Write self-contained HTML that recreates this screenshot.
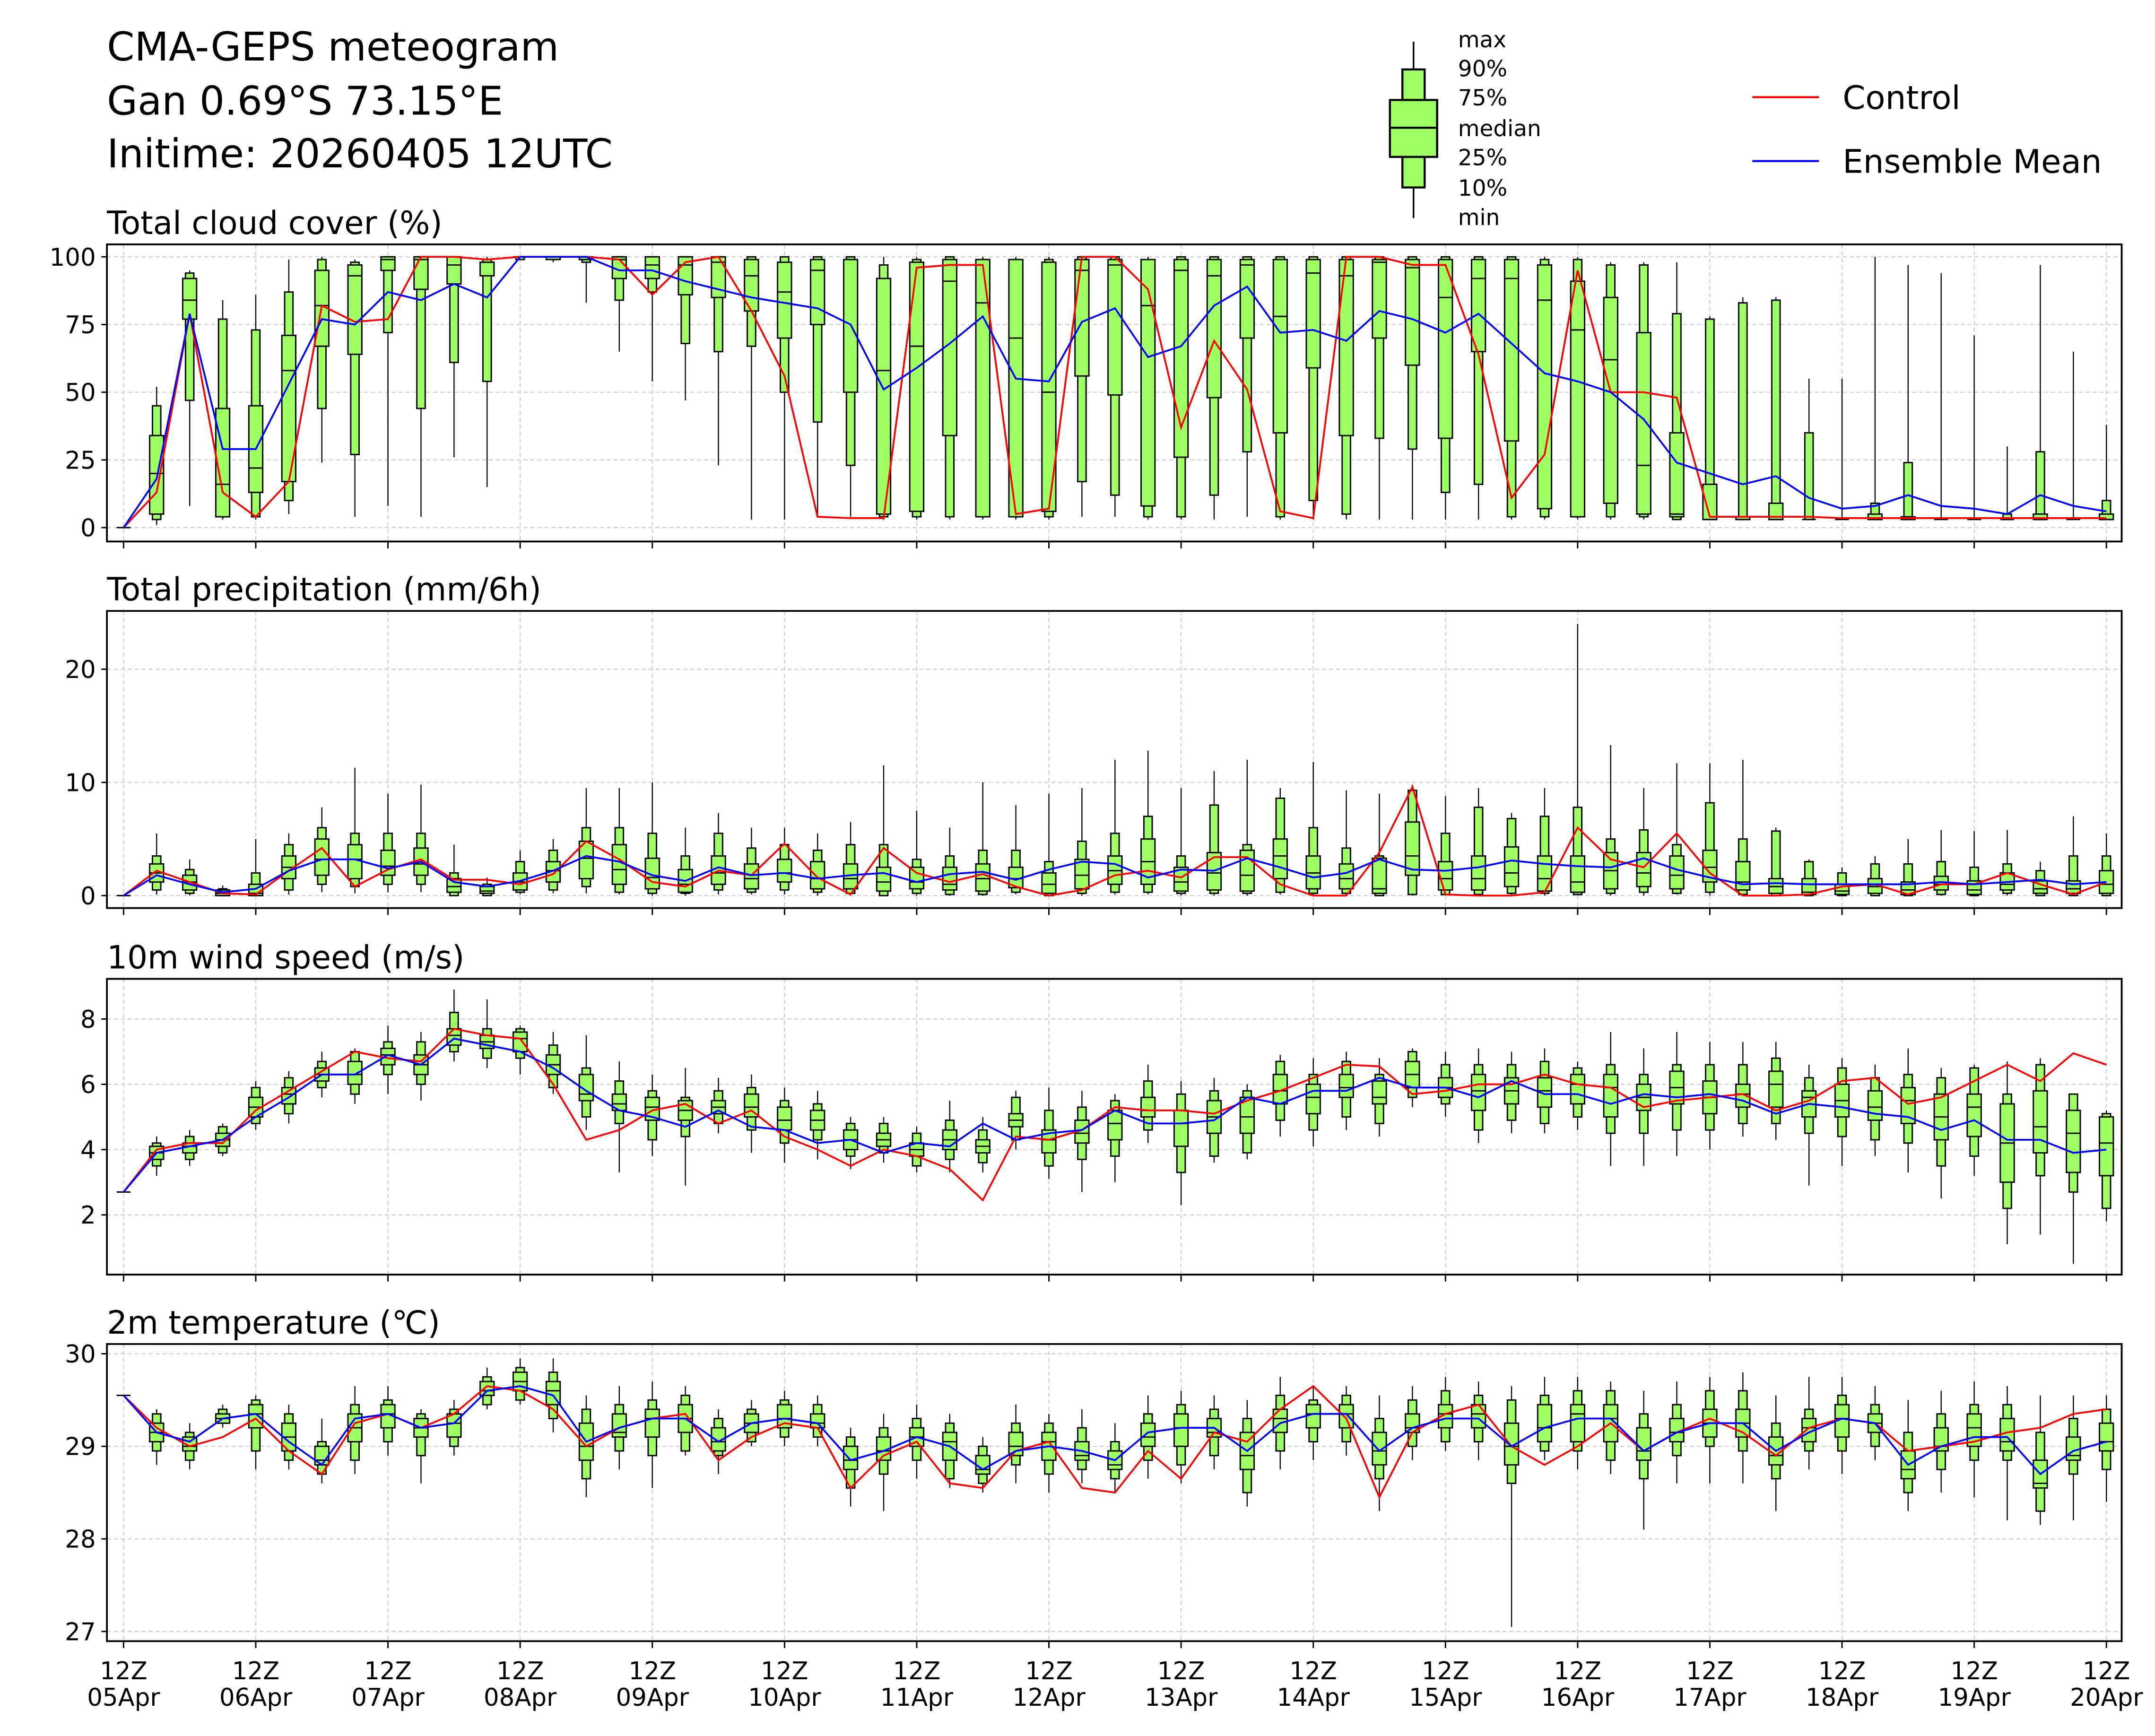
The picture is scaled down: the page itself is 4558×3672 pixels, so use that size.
<!DOCTYPE html>
<html><head><meta charset="utf-8"><style>
html,body{margin:0;padding:0;background:#fff;}
svg{display:block;font-family:"DejaVu Sans","Liberation Sans",sans-serif;}
</style></head><body>
<svg id="chart" xmlns="http://www.w3.org/2000/svg" width="4558" height="3672" viewBox="0 0 1552 1250.3">
<rect x="0" y="0" width="1552" height="1251" fill="#fff"/>
<g font-size="28.5" fill="#000">
<text x="77" y="43.5">CMA-GEPS meteogram</text>
<text x="77" y="82.5">Gan 0.69°S 73.15°E</text>
<text x="77" y="120.5">Initime: 20260405 12UTC</text>
</g>
<g>
<line x1="1018" y1="30" x2="1018" y2="157" stroke="#000" stroke-width="1.2"/>
<rect x="1010" y="50" width="16" height="85" fill="#9dff62" stroke="#000" stroke-width="1.5"/>
<rect x="1001" y="72" width="34" height="41" fill="#9dff62" stroke="#000" stroke-width="1.5"/>
<line x1="1001" y1="92" x2="1035" y2="92" stroke="#000" stroke-width="1.5"/>
<g font-size="16" fill="#000">
<text x="1050" y="34">max</text><text x="1050" y="55">90%</text><text x="1050" y="76">75%</text>
<text x="1050" y="98">median</text><text x="1050" y="119">25%</text><text x="1050" y="141">10%</text><text x="1050" y="162">min</text>
</g></g>
<g font-size="23.5">
<line x1="1262" y1="70" x2="1310" y2="70" stroke="#f00" stroke-width="1.5"/>
<text x="1327" y="78.5">Control</text>
<line x1="1262" y1="116" x2="1310" y2="116" stroke="#00f" stroke-width="1.5"/>
<text x="1327" y="124.5">Ensemble Mean</text>
</g>
<g id="panels"></g>
</svg>
<script>
// ---------- data ----------
const dayLabels = ["05Apr","06Apr","07Apr","08Apr","09Apr","10Apr","11Apr","12Apr","13Apr","14Apr","15Apr","16Apr","17Apr","18Apr","19Apr","20Apr"];
// Cloud cover (%)
const cloudCtrl = [0,13,79,13,4,17,82,76,77,100,100,99,100,100,100,99,86,98,100,80,56,4,3.5,3.5,96,97,97,5,7,100,100,88,37,69,51,6,3.5,100,100,97,97,64,11,27,95,50,50,48,4,4,4,4,3.5,3.5,3.5,3.5,3.5,3.5,3.5,3.5,3.5];
const cloudMean = [0,18,79,29,29,53,77,75,87,84,90,85,100,100,100,95,95,91,88,85,83,81,75,51,59,68,78,55,54,76,81,63,67,82,89,72,73,69,80,77,72,79,68,57,54,50,40,24,20,16,19,11,7,8,12,8,7,5,12,8,6];
const cloudMin = [0,1,8,3,3,5,24,4,8,4,26,15,99,98,83,65,54,47,23,3,3,4,4,3,3,3,3,3,3,4,4,3,3,3,4,3,3,3,3,3,3,3,3,3,3,3,3,3,3,3,3,3,3,3,3,3,3,3,3,3,3];
const cloudP10 = [0,3,47,4,4,10,44,27,72,44,61,54,99,99,98,84,87,68,65,67,50,39,23,4,4,4,4,4,4,17,12,4,4,12,28,4,10,5,33,29,13,16,4,4,4,4,4,3,3,3,3,3,3,3,3,3,3,3,3,3,3];
const cloudP25 = [0,5,77,4,13,17,67,64,95,88,90,93,100,99,99,92,92,86,85,80,70,75,50,5,6,34,4,4,6,56,49,8,26,48,70,35,59,34,70,60,33,65,32,7,4,9,5,4,3,3,3,3,3,3,3,3,3,3,3,3,3];
const cloudMed = [0,20,84,16,22,58,82,93,99,99,97,98,100,100,99,99,97,97,98,93,87,95,99,58,67,91,83,70,50,95,97,82,95,93,97,78,94,93,98,96,85,92,92,84,73,62,23,5,3,3,3,3,3,3,3,3,3,3,3,3,3];
const cloudP75 = [0,34,92,44,45,71,95,97,100,100,100,98,100,100,100,100,100,100,100,99,98,99,99,92,98,99,99,99,98,99,99,99,99,99,99,99,99,99,99,99,99,99,99,97,91,85,72,35,16,4,9,3,3,5,4,3,3,3,5,3,5];
const cloudP90 = [0,45,94,77,73,87,99,98,100,100,100,99,100,100,100,100,100,100,100,100,100,100,100,97,99,100,99,99,99,100,100,99,100,100,100,100,100,100,100,100,100,100,100,99,99,97,97,79,77,83,84,35,3,9,24,3,3,5,28,3,10];
const cloudMax = [0,52,95,84,86,99,100,99,100,100,100,100,100,100,100,100,100,100,100,100,100,100,100,100,100,100,100,100,100,100,100,100,100,100,100,100,100,100,100,100,100,100,100,100,100,98,98,98,78,85,85,55,55,100,97,94,71,30,97,65,38];
// Precipitation (mm/6h)
const prCtrl = [0,2.2,1.2,0.2,0.1,2.2,4.2,0.8,2.3,3.2,1.4,1.4,1.0,1.9,4.8,3.2,1.2,0.8,2.2,1.8,4.6,1.6,0.1,4.2,2.0,1.2,1.9,0.8,0.0,0.5,1.8,2.2,1.6,3.4,3.4,1.0,0.0,0.0,3.8,9.6,0.1,0,0,0.3,6.0,3.2,2.5,5.5,2.0,0,0,0.1,0.8,1.0,0.1,1.0,1.0,2.0,1.0,0.1,1.2];
const prMean = [0,1.8,1.0,0.3,0.6,2.2,3.2,3.2,2.4,3.0,1.2,0.8,1.3,2.2,3.5,3.0,1.8,1.3,2.5,1.8,2.0,1.5,1.8,2.0,1.2,1.9,2.1,1.4,2.3,3.0,2.8,1.6,2.3,2.2,3.3,2.5,1.6,2.0,3.2,2.3,2.2,2.5,3.1,2.8,2.6,2.5,3.3,2.3,1.6,1.0,1.1,1.0,1.0,1.0,1.0,1.2,1.0,1.2,1.4,1.0,1.2];
const prMin = [0,0.1,0,0,0,0.1,0.3,0.2,0.3,0.3,0,0,0.1,0.2,0.2,0.1,0,0,0.1,0.1,0.1,0,0,0,0,0,0,0.1,0,0,0.1,0.1,0,0,0,0.1,0,0,0,0,0,0,0,0,0,0,0,0.1,0,0,0,0,0,0,0,0,0,0,0,0,0];
const prP10 = [0,0.5,0.2,0,0,0.5,1,0.8,1,1,0,0,0.3,0.5,0.8,0.3,0.2,0.2,0.5,0.3,0.5,0.3,0.2,0,0.2,0.1,0.1,0.3,0,0.2,0.3,0.3,0.2,0.2,0.2,0.3,0.2,0.2,0,0.1,0.1,0.1,0.2,0.2,0.1,0.2,0.3,0.2,0.3,0.1,0,0,0,0,0,0.1,0,0.2,0,0,0];
const prP25 = [0,1.2,0.5,0,0,1.5,1.8,1.5,1.8,1.8,0.3,0.2,0.5,1.2,1.5,1,0.6,0.3,1,0.6,1.2,0.6,0.6,0.4,0.6,0.5,0.4,0.7,0.2,0.6,1,1,0.4,0.5,0.4,1.5,0.6,0.6,0.2,1.8,0.5,0.5,0.8,0.4,0.3,0.6,0.8,0.6,1.2,0.5,0.2,0.1,0.1,0.2,0.1,0.5,0.1,0.5,0.2,0.2,0.2];
const prMed = [0,2.0,1.2,0.2,0.2,2.5,3.2,3.2,2.6,2.8,0.8,0.4,1.2,2.2,3.3,2.3,1.6,1,2,1.5,2,1.5,1.5,1.2,1.2,1,1.5,1.5,1,1.8,2.2,3,1.2,2,1.8,3.5,2,1.5,0.6,3.5,1.5,1.5,2,1.5,1.2,2.2,2,1.8,2.5,1.2,0.8,0.3,0.4,0.8,0.5,1,0.5,1,0.6,0.6,1];
const prP75 = [0,2.8,1.8,0.5,1.0,3.5,5,4.5,4,4.2,1.5,0.8,2,3,4.8,4.5,3.3,2.3,3.5,2.8,3.2,3,2.8,2.5,2.5,2.5,2.8,2.5,2,3.2,3.5,5,2.5,3.8,4,5,3.5,2.8,3.3,6.5,3,3.5,4.3,3.5,3.5,3.8,3.8,3.5,4,3,1.5,1.5,1,1.5,1.2,1.7,1.3,2,1.3,1.3,2.2];
const prP90 = [0,3.5,2.3,0.6,2.0,4.5,6,5.5,5.5,5.5,2,1,3,4,6,6,5.5,3.5,5.5,4.2,4.5,4,4.5,4.5,3.2,3.5,4,4,3,4.8,5.5,7,3.5,8,4.5,8.6,6,4.2,3.5,9.3,5.5,7.8,6.8,7,7.8,5,5.8,4.5,8.2,5,5.7,3,2,2.8,2.8,3,2.5,2.8,2.2,3.5,3.5];
const prMax = [0,5.5,3.2,0.9,5.0,5.5,7.8,11.3,9.0,9.8,4.5,1.6,4,5,9.5,9.5,10,6,7.3,6,6,5.5,6.5,11.5,7.5,6,10,8,9,9.5,12,12.8,9.5,11,12,9.5,11.8,9.3,9,9.8,8.8,9.5,7.3,9.5,24,13.3,9.5,11.7,11.7,12,6,3.2,2.5,3.5,5,5.8,5.7,5.8,3,7,5.5];
// 10m wind speed (m/s)
const wsCtrl = [2.7,4.0,4.2,4.2,5.2,5.8,6.4,7.0,6.8,6.7,7.7,7.5,7.4,6.0,4.3,4.6,5.2,5.4,4.8,5.2,4.4,4.0,3.5,4.0,3.8,3.4,2.45,4.4,4.3,4.6,5.3,5.2,5.2,5.1,5.5,5.8,6.2,6.6,6.55,5.7,5.8,6.0,6.0,6.3,6.0,5.9,5.3,5.5,5.6,5.7,5.2,5.5,6.1,6.2,5.4,5.6,6.1,6.6,6.1,6.95,6.6];
const wsMean = [2.7,3.9,4.1,4.3,5.0,5.6,6.3,6.3,6.9,6.6,7.4,7.2,7.0,6.5,5.8,5.2,5.0,4.7,5.2,4.7,4.6,4.2,4.3,3.9,4.2,4.1,4.8,4.3,4.5,4.6,5.2,4.8,4.8,4.9,5.6,5.4,5.8,5.8,6.2,5.9,5.9,5.6,6.1,5.7,5.7,5.4,5.7,5.6,5.7,5.5,5.1,5.4,5.3,5.1,5.0,4.6,4.9,4.3,4.3,3.9,4.0];
const wsMin = [2.7,3.2,3.5,3.8,4.6,4.8,5.6,5.4,5.7,5.5,6.7,6.5,6.3,5.7,4.6,3.3,3.8,2.9,4.5,3.9,3.6,3.7,3.4,3.6,3.3,3.3,3.3,4.0,3.1,2.7,3.0,4.2,2.3,3.6,3.7,4.4,4.1,4.6,4.4,5.3,5.0,4.2,4.5,4.5,4.6,3.5,3.5,3.8,4.0,4.4,4.3,2.9,3.5,3.8,3.3,2.5,3.2,1.1,1.4,0.5,1.8];
const wsP10 = [2.7,3.5,3.7,3.9,4.8,5.1,5.9,5.7,6.3,6.0,7.0,6.8,6.8,5.9,5.0,4.8,4.3,4.4,4.8,4.6,4.2,4.3,3.8,3.9,3.5,3.7,3.6,4.3,3.5,3.7,3.8,4.6,3.3,3.8,3.9,4.9,4.6,5.0,4.8,5.6,5.4,4.6,4.9,4.8,5.0,4.5,4.5,4.6,4.6,4.8,4.8,4.5,4.4,4.3,4.2,3.5,3.8,2.2,3.2,2.7,2.2];
const wsP25 = [2.7,3.7,3.9,4.1,5.0,5.4,6.1,6.0,6.6,6.3,7.2,7.1,7.0,6.3,5.5,5.2,4.9,4.9,5.1,5.0,4.6,4.6,4.0,4.1,3.8,4.0,3.9,4.7,3.9,4.2,4.3,5.0,4.1,4.5,4.5,5.4,5.1,5.6,5.4,5.9,5.6,5.2,5.4,5.3,5.4,5.0,5.2,5.4,5.1,5.3,5.3,5.0,5.0,4.9,4.8,4.3,4.4,3.0,3.9,3.3,3.2];
const wsMed = [2.7,3.9,4.1,4.3,5.3,5.7,6.3,6.3,6.9,6.6,7.5,7.3,7.4,6.6,5.7,5.4,5.3,5.2,5.3,5.3,4.9,4.9,4.3,4.3,4.0,4.3,4.1,4.9,4.3,4.5,4.8,5.2,4.8,5.0,5.0,5.8,5.6,5.9,5.6,6.3,5.9,5.8,5.8,5.8,6.0,5.9,5.6,5.9,5.6,5.7,6.0,5.6,5.5,5.3,5.5,5.0,5.3,4.2,4.7,4.5,4.2];
const wsP75 = [2.7,4.1,4.2,4.5,5.6,5.9,6.5,6.7,7.1,6.9,7.7,7.5,7.6,6.9,6.3,5.7,5.6,5.5,5.5,5.7,5.3,5.2,4.6,4.5,4.2,4.6,4.3,5.1,4.6,4.9,5.2,5.6,5.2,5.5,5.6,6.3,6.0,6.3,6.1,6.7,6.2,6.3,6.2,6.2,6.3,6.3,6.0,6.4,6.1,6.0,6.4,5.8,6.0,5.8,5.9,5.7,5.7,5.4,5.8,5.2,5.0];
const wsP90 = [2.7,4.2,4.4,4.7,5.9,6.2,6.7,7.0,7.3,7.3,8.2,7.7,7.7,7.2,6.5,6.1,5.8,5.6,5.8,5.9,5.5,5.4,4.8,4.8,4.5,4.9,4.6,5.6,5.2,5.3,5.5,6.1,5.7,5.8,5.8,6.7,6.3,6.7,6.3,7.0,6.6,6.6,6.6,6.7,6.5,6.6,6.3,6.6,6.6,6.6,6.8,6.2,6.5,6.2,6.3,6.2,6.5,5.7,6.6,5.7,5.1];
const wsMax = [2.7,4.4,4.6,4.8,6.1,6.4,7.0,7.1,7.8,7.6,8.9,8.6,7.8,7.6,7.5,6.7,6.3,6.5,6.2,6.3,5.9,5.8,5.0,5.0,4.7,5.5,5.0,5.8,5.9,5.8,5.7,6.6,6.1,6.2,6.0,6.9,6.8,7.0,6.8,7.1,7.0,7.1,7.0,7.1,6.7,7.6,7.1,7.6,7.3,7.3,7.3,6.6,6.8,6.6,7.1,6.5,6.6,6.7,6.8,5.6,5.2];
// 2m temperature (°C)
const tCtrl = [29.55,29.2,29.0,29.1,29.3,28.95,28.7,29.25,29.35,29.2,29.35,29.65,29.6,29.4,29.0,29.2,29.3,29.35,28.85,29.1,29.25,29.2,28.55,28.9,29.05,28.6,28.55,28.95,29.05,28.55,28.5,28.95,28.65,29.15,29.05,29.4,29.65,29.3,28.45,29.15,29.35,29.45,29.0,28.8,29.0,29.25,28.95,29.15,29.3,29.15,28.9,29.2,29.3,29.25,28.95,29.0,29.05,29.15,29.2,29.35,29.4];
const tMean = [29.55,29.15,29.05,29.3,29.35,29.05,28.8,29.3,29.35,29.2,29.25,29.6,29.65,29.55,29.05,29.2,29.3,29.3,29.05,29.25,29.3,29.25,28.85,28.95,29.1,29.0,28.75,28.95,29.0,28.95,28.85,29.15,29.2,29.2,28.95,29.25,29.35,29.35,28.95,29.2,29.3,29.3,29.0,29.2,29.3,29.3,28.95,29.15,29.25,29.25,28.95,29.15,29.3,29.25,28.8,29.0,29.1,29.1,28.7,28.95,29.05];
const tMin = [29.55,28.8,28.75,29.2,28.75,28.75,28.6,28.7,28.9,28.6,28.9,29.4,29.45,29.15,28.45,28.75,28.55,28.9,28.7,29.0,29.0,29.0,28.35,28.3,28.65,28.55,28.5,28.6,28.5,28.6,28.5,28.65,28.6,28.75,28.35,28.75,28.85,28.9,28.3,28.85,28.95,28.85,27.05,28.85,28.75,28.7,28.1,28.6,28.6,28.6,28.3,28.75,28.7,28.85,28.3,28.5,28.45,28.2,28.15,28.2,28.4];
const tP10 = [29.55,28.95,28.85,29.25,28.95,28.85,28.7,28.85,29.05,28.9,29.0,29.45,29.5,29.3,28.65,28.95,28.9,28.95,28.9,29.05,29.1,29.1,28.55,28.7,28.85,28.65,28.6,28.8,28.7,28.75,28.65,28.85,28.8,28.9,28.5,28.95,29.05,29.05,28.65,29.0,29.05,29.05,28.6,28.95,28.95,28.85,28.65,28.9,29.0,28.95,28.65,28.95,28.95,29.0,28.5,28.75,28.85,28.85,28.3,28.7,28.75];
const tP25 = [29.55,29.05,28.95,29.25,29.2,28.95,28.8,29.05,29.2,29.1,29.1,29.55,29.6,29.45,28.85,29.1,29.1,29.15,28.95,29.15,29.2,29.2,28.75,28.85,29.0,28.85,28.7,28.9,28.85,28.85,28.75,29.0,29.0,29.1,28.75,29.15,29.2,29.2,28.8,29.15,29.2,29.2,28.8,29.05,29.05,29.05,28.85,29.05,29.1,29.1,28.8,29.05,29.1,29.15,28.65,28.95,29.0,28.95,28.55,28.85,28.95];
const tMed = [29.55,29.15,29.0,29.3,29.35,29.1,28.85,29.2,29.35,29.2,29.25,29.6,29.7,29.6,29.0,29.15,29.3,29.3,29.05,29.25,29.3,29.25,28.85,28.95,29.1,29.05,28.75,29.0,29.05,28.9,28.8,29.1,29.2,29.15,28.9,29.3,29.35,29.35,28.95,29.2,29.35,29.35,29.0,29.2,29.35,29.3,28.95,29.15,29.25,29.25,28.9,29.2,29.3,29.25,28.75,29.0,29.2,29.05,28.6,28.9,29.05];
const tP75 = [29.55,29.25,29.1,29.35,29.45,29.25,29.0,29.35,29.45,29.3,29.35,29.7,29.8,29.7,29.25,29.35,29.4,29.45,29.2,29.35,29.45,29.35,29.0,29.1,29.2,29.15,28.9,29.15,29.15,29.05,28.95,29.25,29.35,29.3,29.15,29.4,29.45,29.45,29.15,29.35,29.45,29.45,29.25,29.45,29.45,29.45,29.2,29.3,29.4,29.4,29.1,29.3,29.45,29.35,28.95,29.2,29.35,29.3,28.85,29.1,29.25];
const tP90 = [29.55,29.35,29.15,29.4,29.5,29.35,29.05,29.45,29.5,29.35,29.4,29.75,29.85,29.8,29.4,29.45,29.5,29.55,29.3,29.4,29.5,29.45,29.1,29.2,29.3,29.25,29.0,29.25,29.25,29.2,29.05,29.35,29.45,29.4,29.3,29.55,29.5,29.55,29.3,29.5,29.6,29.55,29.5,29.55,29.6,29.6,29.35,29.45,29.6,29.6,29.25,29.4,29.55,29.45,29.15,29.35,29.45,29.45,29.15,29.3,29.4];
const tMax = [29.55,29.4,29.25,29.45,29.55,29.45,29.3,29.65,29.65,29.4,29.5,29.85,29.95,29.95,29.55,29.65,29.7,29.65,29.4,29.5,29.6,29.55,29.2,29.35,29.45,29.35,29.1,29.45,29.35,29.4,29.25,29.55,29.6,29.55,29.5,29.75,29.65,29.65,29.55,29.65,29.75,29.7,29.65,29.75,29.75,29.7,29.6,29.7,29.75,29.8,29.55,29.75,29.75,29.65,29.5,29.6,29.7,29.65,29.55,29.55,29.55];

// ---------- layout ----------
const NS = "http://www.w3.org/2000/svg";
const root = document.getElementById('panels');
const X0 = 77, X1 = 1528, XS = 89, XE = 1517;
const xOf = i => XS + (XE - XS) * i / 60;
function mk(tag, attrs, parent){ const e=document.createElementNS(NS,tag); for(const k in attrs) e.setAttribute(k,attrs[k]); (parent||root).appendChild(e); return e; }

function panel(cfg){
  const g = mk('g',{});
  
  
  const yOf = v => cfg.bot - (v - cfg.vmin) / (cfg.vmax - cfg.vmin) * (cfg.bot - cfg.top);
  for (let d=0; d<=15; d++){
    const x = xOf(d*4);
    mk('line',{x1:x,y1:cfg.top,x2:x,y2:cfg.bot,stroke:'#d0d0d0','stroke-width':0.8,'stroke-dasharray':'3,2'},g);
  }
  cfg.ticks.forEach(t=>{
    const y=yOf(t);
    mk('line',{x1:X0,y1:y,x2:X1,y2:y,stroke:'#d0d0d0','stroke-width':0.8,'stroke-dasharray':'3,2'},g);
    mk('line',{x1:X0-4,y1:y,x2:X0,y2:y,stroke:'#000','stroke-width':1},g);
    const tl = mk('text',{x:X0-8,y:y+6.3,'text-anchor':'end','font-size':17.5},g);
    
    
    tl.textContent = t;
  });
  for (let d=0; d<=15; d++){
    const x = xOf(d*4);
    mk('line',{x1:x,y1:cfg.bot,x2:x,y2:cfg.bot+5,stroke:'#000','stroke-width':1},g);
  }
  const tt = mk('text',{x:X0,y:cfg.top-7.5,'font-size':23},g);
  
  
  tt.textContent = cfg.title;
  const d = cfg.data;
  for (let i=0;i<d.med.length;i++){
    const x=xOf(i);
    const bg = mk('g',{},g);
    
    
    mk('line',{x1:x,y1:yOf(d.min[i]),x2:x,y2:yOf(d.max[i]),stroke:'#000','stroke-width':0.8},bg);
    const y90=yOf(d.p90[i]), y10=yOf(d.p10[i]);
    mk('rect',{x:x-3,y:y90,width:6,height:Math.max(0,y10-y90),fill:'#9dff62',stroke:'#000','stroke-width':1},bg);
    const y75=yOf(d.p75[i]), y25=yOf(d.p25[i]);
    mk('rect',{x:x-5,y:y75,width:10,height:Math.max(0,y25-y75),fill:'#9dff62',stroke:'#000','stroke-width':1},bg);
    const ym=yOf(d.med[i]);
    mk('line',{x1:x-5,y1:ym,x2:x+5,y2:ym,stroke:'#000','stroke-width':1},bg);
  }
  const pts = arr => arr.map((v,i)=>xOf(i).toFixed(2)+','+yOf(v).toFixed(2)).join(' ');
  const lc = mk('polyline',{points:pts(cfg.ctrl),fill:'none',stroke:'#f00','stroke-width':1.3},g);
  
  
  const lm = mk('polyline',{points:pts(cfg.mean),fill:'none',stroke:'#00f','stroke-width':1.3},g);
  
  
  mk('rect',{x:X0,y:cfg.top,width:X1-X0,height:cfg.bot-cfg.top,fill:'none',stroke:'#000','stroke-width':1.3},g);
  if (cfg.xlabels){
    for (let k=0;k<=15;k++){
      const x=xOf(k*4);
      const t1=mk('text',{x:x,y:cfg.bot+27.5,'text-anchor':'middle','font-size':17.5},g);
      
      
      t1.textContent='12Z';
      const t2=mk('text',{x:x,y:cfg.bot+46.5,'text-anchor':'middle','font-size':17.5},g);
      
      
      t2.textContent=dayLabels[k];
    }
  }
}
panel({name:'cloud-cover-panel',title:'Total cloud cover (%)',top:176,bot:390,vmin:-5.13,vmax:104.6,ticks:[0,25,50,75,100],
  ctrl:cloudCtrl,mean:cloudMean,data:{min:cloudMin,p10:cloudP10,p25:cloudP25,med:cloudMed,p75:cloudP75,p90:cloudP90,max:cloudMax}});
panel({name:'precipitation-panel',title:'Total precipitation (mm/6h)',top:440,bot:654,vmin:-1.1,vmax:25.15,ticks:[0,10,20],
  ctrl:prCtrl,mean:prMean,data:{min:prMin,p10:prP10,p25:prP25,med:prMed,p75:prP75,p90:prP90,max:prMax}});
panel({name:'wind-speed-panel',title:'10m wind speed (m/s)',top:705,bot:918,vmin:0.17,vmax:9.23,ticks:[2,4,6,8],
  ctrl:wsCtrl,mean:wsMean,data:{min:wsMin,p10:wsP10,p25:wsP25,med:wsMed,p75:wsP75,p90:wsP90,max:wsMax}});
panel({name:'temperature-panel',title:'2m temperature (℃)',top:968,bot:1182,vmin:26.895,vmax:30.105,ticks:[27,28,29,30],xlabels:true,
  ctrl:tCtrl,mean:tMean,data:{min:tMin,p10:tP10,p25:tP25,med:tMed,p75:tP75,p90:tP90,max:tMax}});
</script>
</body></html>
